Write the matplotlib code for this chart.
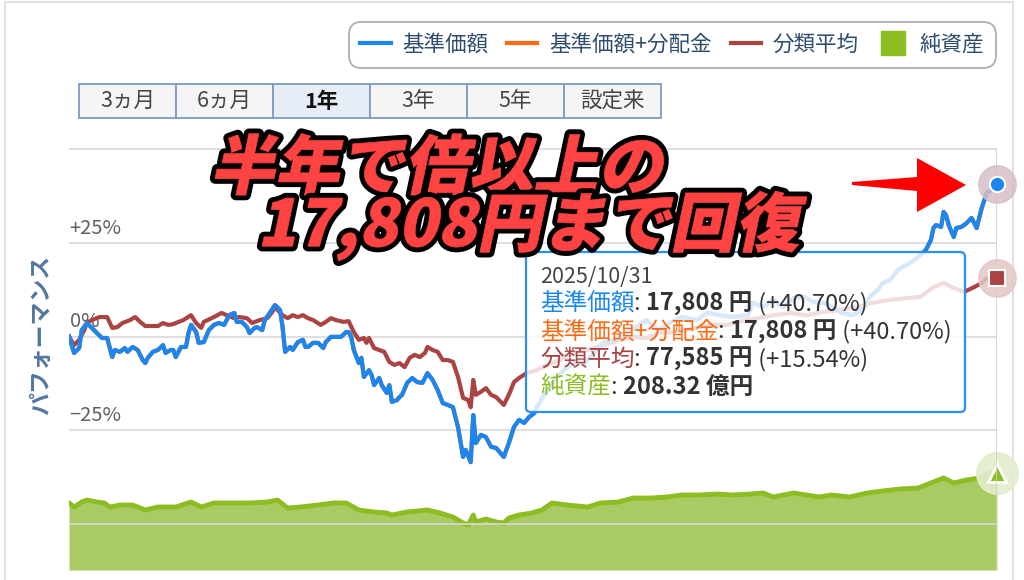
import matplotlib
matplotlib.use("Agg")
import matplotlib.pyplot as plt
from matplotlib.patches import Rectangle, Polygon
from matplotlib.lines import Line2D
from matplotlib.offsetbox import TextArea, HPacker, VPacker, AnnotationBbox
from matplotlib.patheffects import AbstractPathEffect
from matplotlib.transforms import Affine2D, blended_transform_factory

plt.rcParams['font.family'] = ['Noto Sans CJK JP', 'DejaVu Sans']

# ---------------- data (days since 2024/10/31, performance %) ----------------
blue_days = [0, 2, 4, 5, 7, 9, 11, 13, 15, 17,
             18, 20, 22, 23, 25, 27, 29, 30, 31, 33,
             35, 37, 38, 40, 41, 42, 44, 46, 47, 48,
             50, 51, 53, 55, 57, 59, 61, 63, 65, 66,
             68, 70, 71, 73, 74, 76, 77, 79, 81, 83,
             84, 85, 87, 88, 90, 92, 93, 94, 96, 98,
             100, 101, 103, 105, 107, 109, 110, 111, 112, 114,
             115, 116, 118, 119, 120, 122, 123, 125, 126, 127,
             129, 130, 131, 133, 135, 137, 139, 141, 143, 145,
             147, 149, 151, 153, 155, 156, 158, 159, 160, 162,
             164, 166, 168, 171, 173, 175, 177, 179, 181, 183,
             184, 188, 192, 196, 200, 202, 205, 210, 214, 219,
             223, 227, 232, 236, 241, 247, 251, 256, 261, 267,
             269, 273, 277, 281, 285, 289, 293, 297, 300, 304,
             308, 312, 315, 318, 320, 323, 326, 328, 331, 334,
             337, 339, 340, 341, 343, 344, 345, 346, 348, 349,
             351, 353, 355, 357, 359, 361, 363, 365]
blue_vals = [0.0, -4.4, -3.1, 1.7, 3.6, 2.3, 0.9, -0.4, -0.4, -5.5,
             -3.6, -4.1, -3.1, -4.1, -2.8, -3.6, -6.3, -7.1, -5.7, -4.1,
             -3.6, -2.3, -4.4, -3.6, -3.6, -5.5, -2.8, -2.8, 0.9, 3.1,
             1.2, -1.7, -1.5, 1.7, 3.1, 3.6, 3.1, 5.7, 6.3, 3.9,
             3.9, 2.5, 0.9, 2.3, 2.5, 1.7, 4.4, 6.3, 8.4, 7.1,
             2.5, -4.1, -2.8, -3.6, -1.5, -0.9, -2.8, -2.8, -1.7, -1.7,
             -3.1, -1.5, -0.1, -0.1, -0.1, 1.2, 1.2, -0.1, -3.6, -7.1,
             -5.7, -10.8, -9.0, -10.3, -13.0, -11.1, -13.0, -15.1, -13.0, -17.5,
             -17.0, -16.2, -15.6, -12.4, -11.1, -12.2, -12.4, -9.8, -11.6, -14.3,
             -17.8, -18.3, -18.9, -24.2, -32.2, -30.3, -33.6, -21.0, -28.5, -26.3,
             -26.9, -29.5, -29.8, -32.2, -28.5, -24.2, -22.3, -23.1, -21.5, -20.5,
             -18.9, -14.3, -10.8, -8.2, -6.3, -7.6, -5.5, -1.7, -0.9, 0.9,
             2.5, 4.4, 1.7, 3.6, 5.2, 4.4, 6.3, 5.7, 5.2, 5.7,
             9.0, 7.9, 9.8, 7.9, 10.3, 10.6, 9.2, 9.0, 7.9, 6.3,
             5.7, 7.1, 10.6, 12.4, 14.3, 15.1, 17.8, 18.6, 19.7, 21.3,
             23.1, 25.8, 29.0, 29.8, 29.3, 33.3, 32.4, 29.8, 26.6, 29.0,
             29.3, 30.3, 31.7, 29.0, 34.4, 38.4, 39.2, 40.7]
# 基準価額+分配金 (no distributions -> identical to 基準価額)
orange_vals = list(blue_vals)

brown_days = [0, 2, 4, 6, 7, 9, 12, 15, 17, 19,
              21, 24, 26, 28, 30, 32, 35, 37, 39, 41,
              42, 45, 48, 50, 52, 53, 57, 60, 62, 65,
              67, 70, 72, 75, 78, 80, 81, 82, 84, 86,
              88, 90, 92, 94, 96, 99, 101, 103, 105, 108,
              110, 112, 114, 116, 117, 118, 120, 122, 124, 126,
              128, 130, 132, 134, 136, 138, 140, 141, 143, 145,
              147, 149, 151, 153, 155, 157, 158, 159, 160, 162,
              164, 166, 168, 171, 173, 175, 177, 180, 184, 188,
              193, 198, 204, 208, 213, 217, 222, 227, 232, 238,
              243, 248, 253, 259, 264, 271, 277, 284, 290, 297,
              303, 310, 316, 323, 330, 335, 340, 344, 348, 352,
              356, 359, 361, 365]
brown_vals = [0.0, -2.3, -0.9, 1.7, 3.6, 4.4, 5.2, 5.2, 2.3, 2.5,
              3.6, 4.4, 5.2, 3.9, 2.8, 2.8, 2.8, 3.6, 3.1, 3.3,
              3.6, 4.4, 5.7, 3.6, 2.3, 3.9, 5.2, 6.3, 5.7, 4.9,
              5.2, 4.9, 3.6, 4.4, 4.9, 6.6, 7.9, 7.1, 5.7, 4.9,
              5.7, 5.2, 5.7, 4.9, 4.4, 3.1, 3.9, 4.9, 4.4, 3.9,
              4.1, 1.2, -0.9, -0.4, -1.7, -0.4, -3.1, -3.6, -4.1, -6.8,
              -7.6, -7.1, -8.2, -5.7, -4.9, -5.5, -4.4, -2.8, -3.6, -4.1,
              -6.3, -6.3, -6.8, -10.8, -16.4, -17.0, -18.9, -11.6, -15.6, -14.8,
              -13.8, -15.6, -16.2, -18.3, -15.6, -12.2, -11.1, -9.8, -9.0, -7.6,
              -6.3, -4.4, -3.6, -2.8, -1.7, -0.9, -0.1, -0.4, 0.9, 1.2,
              1.7, 2.5, 3.1, 3.1, 4.1, 4.9, 5.7, 6.3, 5.7, 6.6,
              7.1, 7.9, 9.0, 9.8, 10.3, 10.6, 13.2, 14.3, 13.0, 11.9,
              13.2, 14.3, 15.6, 15.54]

# 純資産 (億円)
asset_days = [0, 2, 5, 7, 11, 14, 16, 20, 25, 30,
              35, 39, 42, 48, 52, 57, 65, 71, 78, 82,
              86, 91, 98, 104, 109, 114, 120, 125, 127, 133,
              141, 146, 151, 155, 157, 159, 160, 164, 168, 171,
              173, 177, 182, 186, 190, 196, 204, 209, 216, 222,
              229, 235, 241, 248, 255, 261, 268, 273, 277, 285,
              290, 295, 300, 307, 314, 320, 327, 334, 339, 344,
              348, 353, 358, 362, 365]
asset_vals = [143.9, 135.3, 146.0, 150.3, 146.0, 143.9, 135.3, 139.6, 139.6, 128.9,
              135.3, 135.3, 135.3, 146.0, 135.3, 143.9, 143.9, 143.9, 146.0, 150.3,
              133.2, 135.3, 139.6, 143.9, 143.9, 128.9, 124.6, 122.4, 118.1, 124.6,
              128.9, 122.4, 113.8, 100.9, 96.6, 118.1, 103.1, 109.5, 103.1, 100.9,
              111.7, 118.1, 122.4, 128.9, 143.9, 139.6, 135.3, 143.9, 146.0, 154.6,
              154.6, 156.8, 161.1, 161.1, 163.2, 161.1, 163.2, 165.4, 156.8, 165.4,
              161.1, 156.8, 161.1, 156.8, 165.4, 169.7, 174.0, 176.1, 186.9, 197.6,
              186.9, 193.3, 197.6, 208.3, 208.32]

y_ticks = [50, 25, 0, -25, -50]
y_tick_labels = {25: "+25%", 0: "0%", -25: "\u221225%"}
legend_labels = ["基準価額", "基準価額+分配金", "分類平均", "純資産"]
range_buttons = ["3ヵ月", "6ヵ月", "1年", "3年", "5年", "設定来"]
selected_button = "1年"
tooltip_date = "2025/10/31"
tooltip_rows = [("基準価額", "17,808 円", " (+40.70%)"),
                ("基準価額+分配金", "17,808 円", " (+40.70%)"),
                ("分類平均", "77,585 円", " (+15.54%)"),
                ("純資産", "208.32 億円", "")]
headline = ["半年で倍以上の", "17,808円まで回復"]

# ---------------- style ----------------
C_BLUE = "#1a86f0"
C_ORANGE = "#ff6a13"
C_BROWN = "#a94442"
C_GREEN_LINE = "#8cbd22"
C_GREEN_FILL = "#a9cb63"
C_TEXT = "#333333"
C_LEG = "#2e4c6d"

W, H = 1024, 580
fig = plt.figure(figsize=(W / 100, H / 100), dpi=100)


def fx(px):
    return px / W


def fy(py):
    return 1 - py / H


# outer frame
fig.add_artist(Rectangle((fx(5), -0.05), fx(1013 - 5), 1.05 - 2 / H,
                         transform=fig.transFigure, fill=False,
                         ec="#e2e2e2", lw=1.5, zorder=0))

ax = fig.add_axes([fx(69), fy(570), fx(997 - 69), (570 - 148) / H])
ax2 = ax.twinx()
ax.set_zorder(ax2.get_zorder() + 1)
ax.patch.set_visible(False)

ax.set_xlim(0, 365)
ax.set_ylim(-62.43, 50.40)
ax2.set_ylim(0, 906.4)
for a in (ax, ax2):
    a.set_xticks([])
    a.set_yticks([])
    for s in a.spines.values():
        s.set_visible(False)

for t in y_ticks:
    ax.axhline(t, color="#d9d9d9", lw=1.2, zorder=1)
trans = blended_transform_factory(ax.transAxes, ax.transData)
for t, lab in y_tick_labels.items():
    ax.annotate(lab, xy=(0, t), xycoords=trans, xytext=(0.5, 3),
                textcoords="offset points", ha="left", va="bottom",
                fontsize=14.5, color="#606060", zorder=1)

# crosshair at last point
ax.axvline(365, color="#cfcfcf", lw=1.2, zorder=1)

# net assets area
ax2.fill_between(asset_days, asset_vals, 0, color=C_GREEN_FILL, lw=0, zorder=1)
ax2.plot(asset_days, asset_vals, color=C_GREEN_LINE, lw=3.5, zorder=2,
         solid_joinstyle="round")

# performance lines
ax.plot(brown_days, brown_vals, color=C_BROWN, lw=3, zorder=3, solid_joinstyle="round")
ax.plot(blue_days, orange_vals, color=C_ORANGE, lw=3, zorder=3.5, solid_joinstyle="round")
ax.plot(blue_days, blue_vals, color=C_BLUE, lw=3, zorder=4, solid_joinstyle="round")

# end markers with halos
ax.plot([blue_days[-1]], [blue_vals[-1]], "o", ms=27, color="#d6bfc8", alpha=0.85,
        zorder=5, clip_on=False)
ax.plot([blue_days[-1]], [blue_vals[-1]], "o", ms=11, mfc=C_BLUE, mec="white",
        mew=1.5, zorder=6, clip_on=False)
ax.plot([brown_days[-1]], [brown_vals[-1]], "o", ms=27, color="#e2c7c7", alpha=0.85,
        zorder=5, clip_on=False)
ax.plot([brown_days[-1]], [brown_vals[-1]], "s", ms=11, mfc=C_BROWN, mec="white",
        mew=1.5, zorder=6, clip_on=False)
ax2.plot([asset_days[-1]], [asset_vals[-1]], "o", ms=30, color="#e3edcd", alpha=0.9,
         zorder=5, clip_on=False)
ax2.plot([asset_days[-1]], [asset_vals[-1]], "^", ms=13, mfc=C_GREEN_LINE, mec="white",
         mew=2, zorder=6, clip_on=False)

# y label
fig.text(fx(42), fy(335), "パフォーマンス", rotation=90, ha="center", va="center",
         fontsize=16.5, color="#52779f", fontweight="bold")

# legend
handles = [Line2D([], [], color=C_BLUE, lw=3),
           Line2D([], [], color=C_ORANGE, lw=3),
           Line2D([], [], color=C_BROWN, lw=3),
           Line2D([], [], color=C_GREEN_LINE, marker="s", ms=17, ls="None")]
leg = fig.legend(handles, legend_labels, loc="upper right",
                 bbox_to_anchor=(fx(996), fy(22)), borderaxespad=0, ncol=4,
                 fontsize=15.5, frameon=True, fancybox=True, edgecolor="#9a9a9a",
                 handlelength=1.4, handletextpad=0.55, columnspacing=0.88,
                 borderpad=0.55, labelcolor=C_LEG)
leg.get_frame().set_linewidth(1.3)
leg.get_frame().set_boxstyle("round,pad=0,rounding_size=0.6")

# range buttons
bx0, bw, by0, bh = 79, 97, 84, 34
for i, lab in enumerate(range_buttons):
    sel = lab == selected_button
    fig.add_artist(Rectangle((fx(bx0 + i * bw), fy(by0 + bh)), fx(bw), bh / H,
                             transform=fig.transFigure,
                             fc="#e6edf7" if sel else "#f5f5f5",
                             ec="#7d9cc4", lw=1.3, zorder=2))
    fig.text(fx(bx0 + i * bw + bw / 2), fy(by0 + bh / 2), lab, ha="center",
             va="center", fontsize=15.5, color="#111111" if sel else "#444444",
             fontweight="bold" if sel else "normal", zorder=3)

# tooltip
FS_TIP = 17
rows = [TextArea(tooltip_date, textprops=dict(color="#444444", fontsize=15.5))]
label_colors = [C_BLUE, C_ORANGE, C_BROWN, C_GREEN_LINE]
for (lab, val, pct), col in zip(tooltip_rows, label_colors):
    parts = [TextArea(lab, textprops=dict(color=col, fontsize=FS_TIP)),
             TextArea(": ", textprops=dict(color=C_TEXT, fontsize=FS_TIP)),
             TextArea(val, textprops=dict(color=C_TEXT, fontsize=FS_TIP, fontweight="bold"))]
    if pct:
        parts.append(TextArea(pct, textprops=dict(color=C_TEXT, fontsize=FS_TIP)))
    rows.append(HPacker(children=parts, sep=0, align="baseline"))
vbox = VPacker(children=rows, sep=2.5, align="left")
ab = AnnotationBbox(vbox, (fx(540), fy(266)), xycoords="figure fraction",
                    box_alignment=(0, 1), frameon=True, pad=0.7, fontsize=14,
                    bboxprops=dict(boxstyle="round,pad=0.7,rounding_size=0.25",
                                   fc=(1, 1, 1, 0.82), ec="#2b8ef2", lw=1.6),
                    zorder=20)
fig.add_artist(ab)


# headline: red text with black outline, slanted like italics
class SkewDraw(AbstractPathEffect):
    def __init__(self, shear=12, offset=(0, 0), **kwargs):
        super().__init__(offset)
        self.shear = shear
        self._gc = kwargs

    def draw_path(self, renderer, gc, tpath, affine, rgbFace):
        aff = Affine2D().skew_deg(self.shear, 0) + affine
        gc0 = renderer.new_gc()
        gc0.copy_properties(gc)
        gc0 = self._update_gc(gc0, self._gc)
        renderer.draw_path(gc0, tpath, aff, rgbFace)
        gc0.restore()


effects = [SkewDraw(12, linewidth=7.5, foreground="black"), SkewDraw(12, linewidth=0.5)]
headline_text = headline[0] + "\n" + "\u2002 " + headline[1]
fig.text(fx(210), fy(137), headline_text, ha="left", va="top", fontsize=46.5,
         fontweight="black", color="#ff4242", path_effects=effects, zorder=30,
         linespacing=0.8, multialignment="left")

# red arrow pointing to the latest value
arrow_pts = [(852, 182), (917, 177), (917, 158), (966, 185), (917, 212), (917, 191), (852, 185)]
fig.add_artist(Polygon([(fx(x), fy(y)) for x, y in arrow_pts], closed=True,
                       transform=fig.transFigure, fc="#ff0000", ec="none", zorder=30))

fig.savefig("out.png", dpi=100)
